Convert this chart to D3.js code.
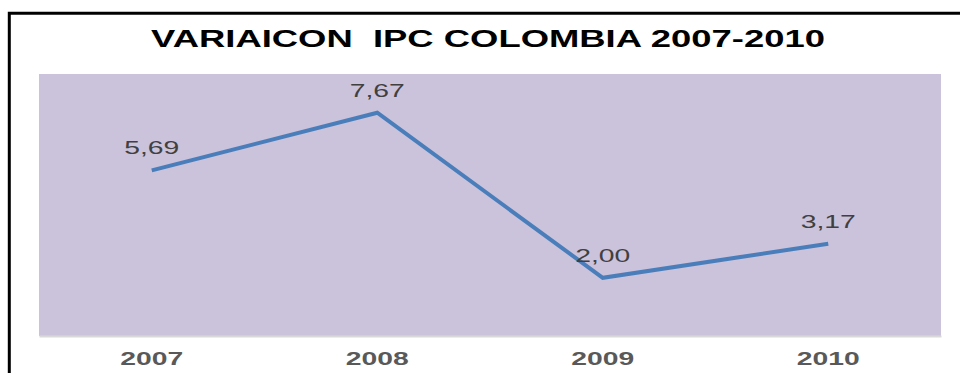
<!DOCTYPE html>
<html>
<head>
<meta charset="utf-8">
<script src="https://cdn.jsdelivr.net/npm/d3@7"></script>
<style>
  html, body { margin: 0; padding: 0; background: #ffffff; }
  svg { display: block; }
</style>
</head>
<body>
<svg id="chart" width="960" height="373"></svg>
<script>
const title = "VARIAICON  IPC COLOMBIA 2007-2010";
const years = ["2007", "2008", "2009", "2010"];
const ipc = [5.69, 7.67, 2.00, 3.17];
const yDomain = [0, 9];

const svg = d3.select("#chart");
const plot = { left: 39, top: 74, right: 941, bottom: 336 };
const SX = 1.53; // horizontal stretch of the original picture's text
const FONT = "Liberation Sans, Arial, sans-serif";

// outer frame (extends beyond right/bottom edges)
svg.append("path")
  .attr("d", "M9.3,400 L9.3,13.3 L1000,13.3")
  .attr("fill", "none")
  .attr("stroke", "#000")
  .attr("stroke-width", 3);

const x = d3.scaleBand().domain(years).range([plot.left, plot.right]).padding(0);
const y = d3.scaleLinear().domain(yDomain).range([plot.bottom, plot.top]);
const cx = v => x(v) + x.bandwidth() / 2;

// plot background
svg.append("rect")
  .attr("x", plot.left).attr("y", plot.top)
  .attr("width", plot.right - plot.left).attr("height", plot.bottom - plot.top)
  .attr("fill", "#CBC2DB");

// x axis
const xAxis = svg.append("g")
  .attr("transform", `translate(0,${plot.bottom})`)
  .call(d3.axisBottom(x).tickSize(0).tickFormat(() => ""));
xAxis.select(".domain").attr("stroke", "#D9D9D9").attr("stroke-width", 2);
xAxis.selectAll(".tick").append("text")
  .attr("transform", `translate(0,28.7) scale(${SX},1)`)
  .attr("text-anchor", "middle")
  .attr("font-family", FONT)
  .attr("font-weight", "bold")
  .attr("font-size", 18.5)
  .attr("fill", "#595959")
  .text(d => d);

// line
const line = d3.line()
  .x((d, i) => cx(years[i]))
  .y(d => y(d));
svg.append("path")
  .datum(ipc)
  .attr("d", line)
  .attr("fill", "none")
  .attr("stroke", "#4A7EBB")
  .attr("stroke-width", 4)
  .attr("stroke-linejoin", "miter");

// data labels
const fmt = v => v.toFixed(2).replace(".", ",");
svg.append("g").selectAll("text")
  .data(ipc)
  .join("text")
  .attr("transform", (d, i) => `translate(${cx(years[i])},${y(d) - 16}) scale(${SX},1)`)
  .attr("text-anchor", "middle")
  .attr("font-family", FONT)
  .attr("font-size", 18.5)
  .attr("fill", "#404040")
  .text(fmt);

// title
svg.append("text")
  .attr("transform", `translate(488,47.3) scale(1.55,1)`)
  .attr("text-anchor", "middle")
  .attr("font-family", FONT)
  .attr("font-weight", "bold")
  .attr("font-size", 23.5)
  .attr("fill", "#000")
  .style("white-space", "pre")
  .text(title);
</script>
</body>
</html>
